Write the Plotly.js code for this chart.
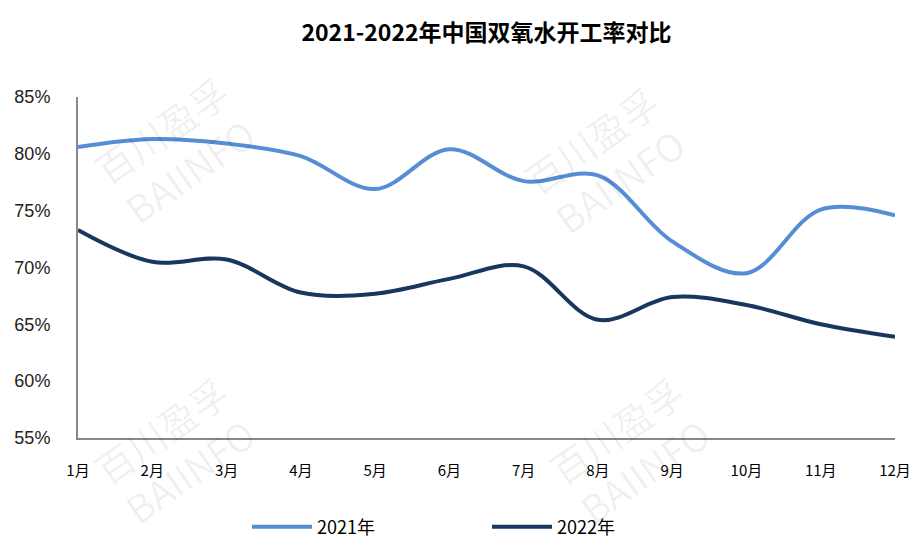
<!DOCTYPE html>
<html>
<head>
<meta charset="utf-8">
<script src="https://cdn.plot.ly/plotly-3.0.1.min.js"></script>
<style>html,body{margin:0;padding:0;background:#fff;}#chart{width:921px;height:545px;}</style>
</head>
<body>
<div id="chart"></div>
<script>
const months = ["1月","2月","3月","4月","5月","6月","7月","8月","9月","10月","11月","12月"];
const rate2021 = [80.6, 81.3, 80.9, 79.8, 76.9, 80.4, 77.6, 78.1, 72.3, 69.5, 75.1, 74.6];
const rate2022 = [73.3, 70.5, 70.7, 67.8, 67.7, 69.0, 70.1, 65.4, 67.4, 66.7, 65.0, 63.9];
const yTicks = [55, 60, 65, 70, 75, 80, 85];
const seriesNames = ["2021年", "2022年"];

const traces = [
  {x: months, y: rate2021, name: seriesNames[0], type: "scatter", mode: "lines",
   line: {color: "#558ED5", width: 4, shape: "spline", smoothing: 1}},
  {x: months, y: rate2022, name: seriesNames[1], type: "scatter", mode: "lines",
   line: {color: "#17375E", width: 4, shape: "spline", smoothing: 1}}
];

const wm = [];
const wmPos = [[175,150],[605,160],[175,450],[630,450]];
wmPos.forEach(p => {
  wm.push({xref:"paper", yref:"paper", x:(p[0]-78)/817, y:1-(p[1]-97)/341, xanchor:"center", yanchor:"middle",
    text:"百川盈孚<br>BAIINFO",
    showarrow:false, textangle:-35, font:{family:"Noto Sans CJK SC, DejaVu Sans", size:38, color:"rgba(0,0,0,0.06)"}});
});

const layout = {
  width: 921, height: 545,
  margin: {l: 78, r: 26, t: 97, b: 107, autoexpand: false},
  paper_bgcolor: "#fff", plot_bgcolor: "#fff",
  title: {text: "<b>2021-2022年中国双氧水开工率对比</b>", x: 0.5, xref: "paper", y: 0.94, yanchor: "middle",
    font: {family: "Noto Sans CJK SC, DejaVu Sans", size: 23, color: "#000"}},
  xaxis: {type: "category", range: [0, 11], showgrid: false, zeroline: false,
    showline: true, linecolor: "#888", linewidth: 2, ticks: "", ticklabelstandoff: 18,
    tickfont: {family: "Noto Sans CJK SC, DejaVu Sans", size: 15, color: "#000"}},
  yaxis: {range: [55, 85], tickvals: yTicks, ticktext: yTicks.map(v => v + "%"),
    showgrid: false, zeroline: false, showline: true, linecolor: "#888", linewidth: 2, ticks: "",
    ticklabelstandoff: 22,
    tickfont: {family: "Liberation Sans, DejaVu Sans", size: 18, color: "#222"}},
  showlegend: true,
  legend: {orientation: "h", x: (247-78)/817, xanchor: "left", yref: "container", y: 18/545, yanchor: "middle",
    entrywidth: 165, entrywidthmode: "pixels", itemwidth: 60,
    font: {family: "Noto Sans CJK SC, DejaVu Sans", size: 18, color: "#000"}},
  annotations: wm
};

Plotly.newPlot("chart", traces, layout, {displayModeBar: false, staticPlot: true});
</script>
</body>
</html>
